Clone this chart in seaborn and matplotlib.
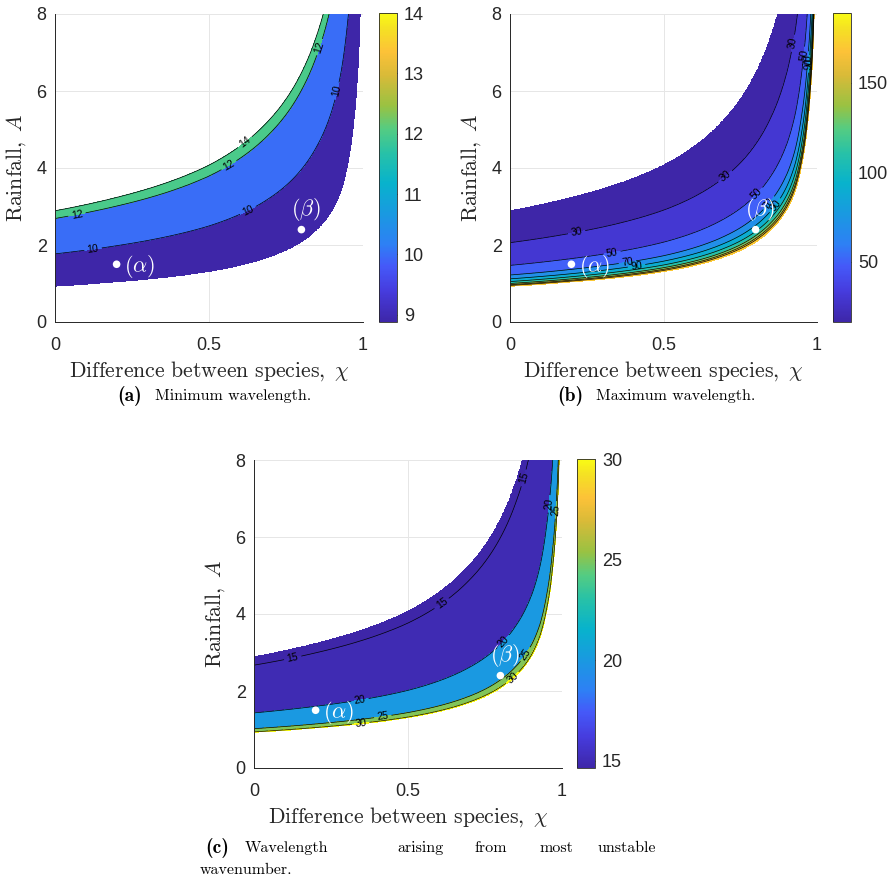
import numpy as np
import matplotlib
matplotlib.use("Agg")
import matplotlib.pyplot as plt
import seaborn as sns
from matplotlib.colors import LinearSegmentedColormap, Normalize
from matplotlib.cm import ScalarMappable

# ==================================
# DATA
# ==================================

# every curve of the unstable band bends up the same way as chi -> 1:
# A(chi) = (A at chi = 0) * growth(chi)
chi_profile = [0, 0.2, 0.4, 0.5, 0.6, 0.7, 0.8, 0.85, 0.9, 0.93, 0.95, 0.97, 0.98, 0.99, 0.995]
growth = [1, 1.12, 1.29, 1.41, 1.58, 1.83, 2.24, 2.58, 3.12, 3.7, 4.4, 5.6, 6.6, 8.4, 11.5]

# (a) minimum wavelength: value on each curve, from lower edge to upper edge
min_values = [9.0, 10, 12, 14]
min_start = [0.93, 1.77, 2.69, 2.89]
min_lines = [10, 12, 14]
min_clim = [8.88, 14]
min_ticks = [9, 10, 11, 12, 13, 14]
min_labels = {10: [(0.124, 1.87), (0.627, 2.89), (0.914, 6.0)],
              12: [(0.072, 2.78), (0.565, 4.07), (0.862, 7.13)],
              14: [(0.62, 4.63)]}

# (b) maximum wavelength
max_values = [189, 170, 150, 130, 110, 90, 70, 50, 30, 16.3]
max_start = [0.925, 0.95, 0.97, 1.0, 1.05, 1.12, 1.22, 1.47, 2.06, 2.89]
max_lines = [30, 50, 70, 90, 110, 130, 150, 170]
max_clim = [16.3, 189]
max_ticks = [50, 100, 150]
max_labels = {30: [(0.217, 2.33), (0.704, 3.75), (0.928, 7.23)],
              50: [(0.333, 1.77), (0.809, 3.30), (0.966, 6.92)],
              70: [(0.383, 1.50), (0.847, 3.06), (0.978, 6.80)],
              90: [(0.413, 1.41), (0.876, 2.95), (0.982, 6.70)]}

# (c) most unstable wavenumber
mu_values = [30.3, 30, 25, 20, 15, 14.65]
mu_start = [0.925, 0.94, 1.02, 1.43, 2.67, 2.89]
mu_lines = [15, 20, 25, 30]
mu_clim = [14.65, 30]
mu_ticks = [15, 20, 25, 30]
mu_labels = {15: [(0.126, 2.84), (0.613, 4.22), (0.889, 7.5)],
             20: [(0.345, 1.71), (0.819, 3.22), (0.973, 6.85)],
             25: [(0.418, 1.35), (0.892, 2.90), (0.989, 6.70)],
             30: [(0.347, 1.12), (0.843, 2.30)]}

# marked points
point_names = [r"$(\alpha)$", r"$(\beta)$"]
point_chi = [0.2, 0.8]
point_A = [1.5, 2.4]

# ==================================
# STYLE
# ==================================

sns.set_style("white")
plt.rcParams["font.family"] = ["Liberation Sans", "DejaVu Sans"]
plt.rcParams["mathtext.fontset"] = "cm"

parula = LinearSegmentedColormap.from_list("parula", [
    (0.00, (0.242, 0.150, 0.660)),
    (0.10, (0.275, 0.235, 0.870)),
    (0.18, (0.270, 0.350, 0.975)),
    (0.25, (0.180, 0.500, 0.960)),
    (0.35, (0.100, 0.600, 0.880)),
    (0.45, (0.030, 0.700, 0.800)),
    (0.55, (0.160, 0.760, 0.650)),
    (0.625, (0.330, 0.800, 0.510)),
    (0.70, (0.600, 0.760, 0.260)),
    (0.80, (0.850, 0.730, 0.220)),
    (0.875, (0.990, 0.760, 0.220)),
    (0.95, (0.960, 0.880, 0.140)),
    (1.00, (0.976, 0.984, 0.081)),
])
DARK = "#262626"

# ==================================
# FIELD ON A GRID
# ==================================

chi_grid = np.concatenate([np.linspace(0, 0.9, 451), np.linspace(0.9, 0.9995, 1500)[1:]])
a_grid = np.linspace(0, 8, 1201)
X, Y = np.meshgrid(chi_grid, a_grid)
log_gap = np.log(1 - np.array(chi_profile))[::-1]
g = np.exp(np.interp(np.log(1 - chi_grid), log_gap, np.log(growth)[::-1]))


def build_field(start, values, masked):
    curves = [s * g[None, :] for s in start]
    if masked:
        Z = np.full(Y.shape, np.nan)
    else:
        # carry the first and last segment on past the edges, only for the lines
        below = values[0] + (values[1] - values[0]) * (Y - curves[0]) / (curves[1] - curves[0])
        above = values[-1] + (values[-1] - values[-2]) * (Y - curves[-1]) / (curves[-1] - curves[-2])
        Z = np.where(Y < curves[0], below, above)
    for k in range(len(start) - 1):
        lo, hi = curves[k], curves[k + 1]
        inside = (Y >= lo) & (Y <= hi)
        t = (Y - lo) / (hi - lo)
        Z = np.where(inside, values[k] + (values[k + 1] - values[k]) * t, Z)
    return Z


def panel(ax, cax, start, values, lines, clim, ticks, labels):
    norm = Normalize(clim[0], clim[1])
    top = max(values)
    fill_levels = [clim[0] - 0.01] + [l for l in lines if l < top] + [top + 1e-3]
    colors = [parula(norm(max(l, clim[0]))) for l in fill_levels[:-1]]

    Zm = build_field(start, values, True)
    Zf = build_field(start, values, False)
    ax.contourf(X, Y, Zm, levels=fill_levels, colors=colors, zorder=1)
    for lev in lines:
        cs = ax.contour(X, Y, Zf, levels=[lev], colors="k", linewidths=0.5, zorder=2)
        if lev in labels:
            ax.clabel(cs, inline=True, fontsize=7.5, fmt="%d",
                      manual=labels[lev], inline_spacing=3)

    sns.scatterplot(x=point_chi, y=point_A, color="white", s=30, edgecolor="none",
                    ax=ax, zorder=5, legend=False)
    ax.text(point_chi[0] + 0.025, point_A[0] - 0.06, point_names[0], color="white",
            fontsize=16, ha="left", va="center", zorder=6)
    ax.text(point_chi[1] + 0.015, point_A[1] + 0.52, point_names[1], color="white",
            fontsize=16, ha="center", va="center", zorder=6)

    ax.set_xlim(0, 1)
    ax.set_ylim(0, 8)
    ax.set_xticks([0, 0.5, 1])
    ax.set_xticklabels(["0", "0.5", "1"])
    ax.set_yticks([0, 2, 4, 6, 8])
    ax.grid(True, color="#e6e6e6", linewidth=0.7)
    ax.set_axisbelow(True)
    sns.despine(ax=ax)
    for side in ["left", "bottom"]:
        ax.spines[side].set_color(DARK)
        ax.spines[side].set_linewidth(0.7)
    ax.tick_params(direction="in", length=3, width=0.6, colors=DARK, labelsize=13,
                   labelcolor=DARK)
    ax.tick_params(axis="x", pad=11)
    ax.tick_params(axis="y", pad=6)
    ax.set_xlabel(r"$\mathrm{Difference\ between\ species,}\ \chi$", fontsize=15.7)
    ax.set_ylabel(r"$\mathrm{Rainfall,}\ A$", fontsize=15.7)
    ax.xaxis.set_label_coords(0.5, -0.122)
    ax.yaxis.set_label_coords(-0.088, 0.5)

    cb = plt.colorbar(ScalarMappable(norm=norm, cmap=parula), cax=cax, ticks=ticks)
    cb.outline.set_linewidth(0.6)
    cb.outline.set_edgecolor(DARK)
    cax.tick_params(direction="in", length=3, width=0.6, colors=DARK, labelsize=13,
                    labelcolor=DARK, pad=5)


# ==================================
# FIGURE
# ==================================

W, H = 896, 884
fig = plt.figure(figsize=(W / 100, H / 100), dpi=100)


def box(left, top, w, h):
    return [left / W, 1 - (top + h) / H, w / W, h / H]


ax_a = fig.add_axes(box(55, 14, 308, 308))
cax_a = fig.add_axes(box(379, 13, 18, 309))
ax_b = fig.add_axes(box(510, 14, 307, 308))
cax_b = fig.add_axes(box(833, 13, 18, 309))
ax_c = fig.add_axes(box(254, 460, 308, 308))
cax_c = fig.add_axes(box(577, 459, 18, 309))

panel(ax_a, cax_a, min_start, min_values, min_lines, min_clim, min_ticks, min_labels)
panel(ax_b, cax_b, max_start, max_values, max_lines, max_clim, max_ticks, max_labels)
panel(ax_c, cax_c, mu_start, mu_values, mu_lines, mu_clim, mu_ticks, mu_labels)

# captions: bold sub-figure tag, then the text
tag = dict(fontsize=14, va="center", ha="left", color="black", fontfamily="cmb10")
cap = dict(fontsize=11.5, va="center", ha="left", color="black", fontfamily="cmr10")
fig.text(117 / W, 1 - 396 / H, "(a)", **tag)
fig.text(155 / W, 1 - 396 / H, "Minimum wavelength.", **cap)
fig.text(557 / W, 1 - 396 / H, "(b)", **tag)
fig.text(596 / W, 1 - 396 / H, "Maximum wavelength.", **cap)

fig.text(205 / W, 1 - 848 / H, "(c)", **tag)
words = ["Wavelength", "arising", "from", "most", "unstable"]
word_x = [245, 397, 474, 539, 597]
for wd, x in zip(words, word_x):
    fig.text(x / W, 1 - 848 / H, wd, **cap)
fig.text(200 / W, 1 - 870 / H, "wavenumber.", **cap)

plt.savefig("out.png", dpi=100)
